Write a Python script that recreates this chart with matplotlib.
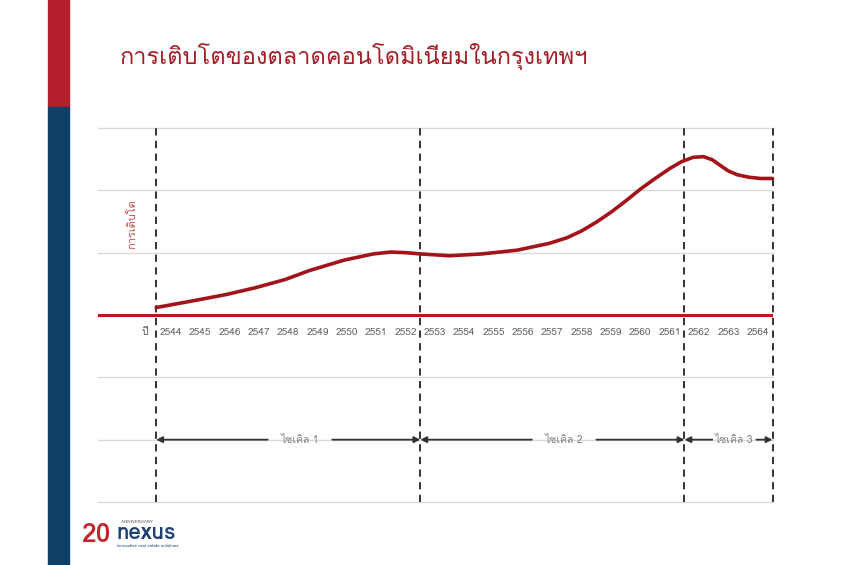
import matplotlib
matplotlib.use('Agg')
import matplotlib.pyplot as plt
from matplotlib import font_manager
from matplotlib.ft2font import FT2Font
from matplotlib.patches import Rectangle

# หา font ที่มีอักษรไทย
thai_font = None
for f in font_manager.fontManager.ttflist:
    try:
        if 0x0E01 in FT2Font(f.fname).get_charmap():
            thai_font = f.name
            break
    except Exception:
        pass
families = ([thai_font] if thai_font else []) + ['DejaVu Sans']
plt.rcParams['font.family'] = families

# ข้อมูล
title = 'การเติบโตของตลาดคอนโดมิเนียมในกรุงเทพฯ'
years = list(range(2544, 2565))
curve_x = [2543.5, 2544.9, 2545.9, 2546.9, 2547.9, 2548.7, 2549.9, 2550.9, 2551.5,
           2552.0, 2552.5, 2553.5, 2554.6, 2555.8, 2556.9, 2557.5, 2558.0, 2558.5,
           2559.0, 2559.5, 2560.0, 2560.5, 2561.0, 2561.4, 2561.8, 2562.15, 2562.45,
           2562.75, 2563.0, 2563.3, 2563.7, 2564.1, 2564.5]
curve_y = [0.12, 0.24, 0.33, 0.44, 0.57, 0.71, 0.88, 0.98, 1.01,
           1.00, 0.98, 0.95, 0.98, 1.04, 1.15, 1.24, 1.35, 1.49,
           1.65, 1.83, 2.02, 2.19, 2.35, 2.46, 2.53, 2.54, 2.49,
           2.39, 2.31, 2.25, 2.21, 2.19, 2.19]
cycle_bounds = [2543.5, 2552.5, 2561.5, 2564.5]
cycle_labels = ['ไซเคิล 1', 'ไซเคิล 2', 'ไซเคิล 3']
cycle_label_x = [2548.4, 2557.4, 2563.2]

fig = plt.figure(figsize=(8.5, 5.65), dpi=100)

# แถบด้านซ้าย
fig.patches.append(Rectangle((48/850, 1 - 107/565), 21/850, 107/565,
                             transform=fig.transFigure, color='#b3202b', zorder=0))
fig.patches.append(Rectangle((48/850, 0), 21/850, 1 - 107/565,
                             transform=fig.transFigure, color='#0e3f67', zorder=0))

fig.text(120/850, 1 - 57/565, title, fontsize=17, color='#a51d26', va='center', ha='left')

ax = fig.add_axes([97.5/850, 1 - 502/565, 675/850, 374/565])
ax.set_xlim(2541.5, 2564.5)
ax.set_ylim(-3, 3)
ax.axis('off')

# เส้นกริด
for g in [3, 2, 1, -1, -2, -3]:
    ax.axhline(g, color='#d9d9d9', lw=1, zorder=1, clip_on=False)
ax.axhline(0, color='#c0141c', lw=2.2, zorder=3)

# เส้นประแบ่งไซเคิล
ax.vlines(cycle_bounds, -3, 3, colors='#222222', linestyles=(0, (4, 3)), lw=1.3,
          zorder=4, clip_on=False)

ax.plot(curve_x, curve_y, color='#a3141a', lw=2.6, zorder=5, solid_capstyle='round',
        solid_joinstyle='round', clip_on=False)

# ปี
for yr in years:
    ax.text(yr, -0.28, str(yr), ha='center', va='center', fontsize=7.3, color='#666666')
ax.text(2543.1, -0.28, 'ปี', ha='center', va='center', fontsize=7.5, color='#555555')
ax.text(2542.7, 1.45, 'การเติบโต', rotation=90, ha='center', va='center',
        fontsize=8, color='#c0504d')

# ลูกศรไซเคิล
for i, lab in enumerate(cycle_labels):
    x0, x1 = cycle_bounds[i], cycle_bounds[i + 1]
    xm = cycle_label_x[i]
    gap = 1.1 if i < 2 else 0.75
    ax.annotate('', xy=(x0, -2), xytext=(xm - gap, -2),
                arrowprops=dict(arrowstyle='-|>', color='#333333', lw=1.3,
                                shrinkA=0, shrinkB=0, mutation_scale=9))
    ax.annotate('', xy=(x1, -2), xytext=(xm + gap, -2),
                arrowprops=dict(arrowstyle='-|>', color='#333333', lw=1.3,
                                shrinkA=0, shrinkB=0, mutation_scale=9))
    ax.text(xm, -2.0, lab, ha='center', va='center', fontsize=7.5, color='#808080')

# โลโก้
fig.text(81/850, 1 - 535/565, '20', fontsize=19, fontweight='bold', color='#c0272d',
         va='center', ha='left')
fig.text(116/850, 1 - 533/565, 'nexus', fontsize=16, fontweight='bold', color='#1f3f73',
         va='center', ha='left')
fig.text(121/850, 1 - 522/565, 'ANNIVERSARY', fontsize=3.2, color='#555555',
         va='center', ha='left')
fig.text(117/850, 1 - 546/565, 'innovative real estate solutions', fontsize=3.2,
         color='#1f3f73', va='center', ha='left')

fig.savefig('out.png', dpi=100)
